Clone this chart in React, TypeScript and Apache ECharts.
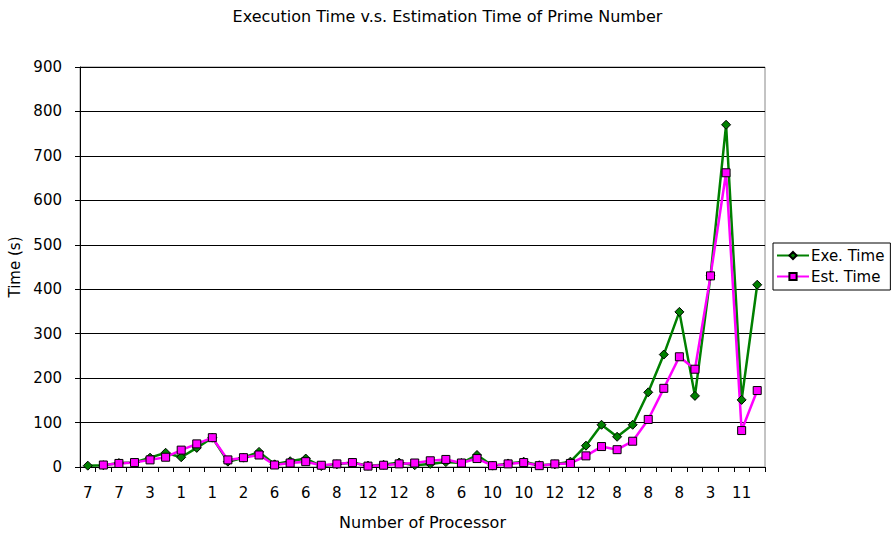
import React, { useEffect, useRef } from "react";
import * as echarts from "echarts";

// Processor counts printed under every second run
const tickLabels = ["7", "7", "3", "1", "1", "2", "6", "6", "8", "12", "12", "8", "6", "10", "10", "12", "12", "8", "8", "8", "3", "11"];
// 44 runs; only every other run carries a printed label
const categories = tickLabels.flatMap((l) => [l, ""]);

const exeTime = [
  3, 4, 9, 10, 21, 32, 22, 43, 66, 12,
  21, 34, 6, 13, 19, 2, 6, 10, 3, 5,
  10, 4, 7, 11, 9, 27, 3, 8, 12, 4,
  6, 12, 48, 95, 68, 95, 168, 253, 349, 160,
  430, 770, 151, 410,
];

const estTime = [
  null, 4.5, 8, 10, 16, 22, 38, 52, 66, 16,
  21, 27, 4.5, 9, 12, 4, 7, 10, 2, 4,
  7, 9, 14, 17, 9, 19, 3, 7, 10, 3,
  7, 8, 25, 46, 39, 58, 107, 177, 248, 220,
  430, 662, 82, 172,
];

const yTicks = { min: 0, max: 900, interval: 100 };

const FONT = "DejaVu Sans, Liberation Sans, Arial, sans-serif";

export default function App() {
  const ref = useRef<HTMLDivElement>(null);

  useEffect(() => {
    if (!ref.current) return;
    const chart = echarts.init(ref.current, undefined, { renderer: "svg" });
    chart.setOption({
      animation: false,
      backgroundColor: "#ffffff",
      textStyle: { fontFamily: FONT, color: "#000" },
      title: {
        text: "Execution Time v.s. Estimation Time of Prime Number",
        left: "center",
        top: 3,
        textStyle: { fontFamily: FONT, fontSize: 16, fontWeight: "normal", color: "#000" },
      },
      legend: {
        orient: "vertical",
        left: 773,
        top: 243,
        padding: [5, 6, 6, 3],
        itemGap: 6,
        itemWidth: 32,
        itemHeight: 9,
        borderColor: "#000",
        borderWidth: 1,
        borderRadius: 0,
        backgroundColor: "#fff",
        textStyle: { fontFamily: FONT, fontSize: 15, color: "#000", padding: [0, 0, 0, -3] },
        data: ["Exe. Time", "Est. Time"],
      },
      grid: {
        left: 80,
        top: 67,
        width: 685,
        height: 400,
        outerBoundsMode: "none",
        containLabel: false,
        show: true,
        borderColor: "#888",
        borderWidth: 1,
        backgroundColor: "transparent",
      },
      xAxis: {
        type: "category",
        data: categories,
        boundaryGap: true,
        name: "Number of Processor",
        nameLocation: "middle",
        nameGap: 47,
        nameTextStyle: { fontFamily: FONT, fontSize: 16, color: "#000" },
        axisLine: { show: true, lineStyle: { color: "#000", width: 1 } },
        axisTick: { show: true, interval: 0, alignWithLabel: false, length: 5, lineStyle: { color: "#000" } },
        axisLabel: { interval: 0, margin: 18, fontFamily: FONT, fontSize: 15, color: "#000" },
        splitLine: { show: false },
      },
      yAxis: {
        type: "value",
        min: yTicks.min,
        max: yTicks.max,
        interval: yTicks.interval,
        name: "Time (s)",
        nameLocation: "middle",
        nameGap: 54,
        nameTextStyle: { fontFamily: FONT, fontSize: 15, color: "#000" },
        axisLine: { show: true, lineStyle: { color: "#000", width: 1 } },
        axisTick: { show: true, length: 5, lineStyle: { color: "#000" } },
        axisLabel: { margin: 18, fontFamily: FONT, fontSize: 15, color: "#000" },
        splitLine: { show: true, lineStyle: { color: "#000", width: 1 } },
      },
      series: [
        {
          name: "Exe. Time",
          type: "line",
          data: exeTime,
          symbol: "diamond",
          symbolSize: 9,
          lineStyle: { color: "#008000", width: 2.5 },
          itemStyle: { color: "#008000", borderColor: "#000", borderWidth: 1 },
        },
        {
          name: "Est. Time",
          type: "line",
          data: estTime,
          symbol: "rect",
          symbolSize: 8,
          lineStyle: { color: "#ff00ff", width: 2.5 },
          itemStyle: { color: "#ff00ff", borderColor: "#000", borderWidth: 1 },
        },
      ],
    });
    return () => chart.dispose();
  }, []);

  return (
    <div
      ref={ref}
      style={{ position: "fixed", left: 0, top: 0, width: 895, height: 534 }}
    />
  );
}
